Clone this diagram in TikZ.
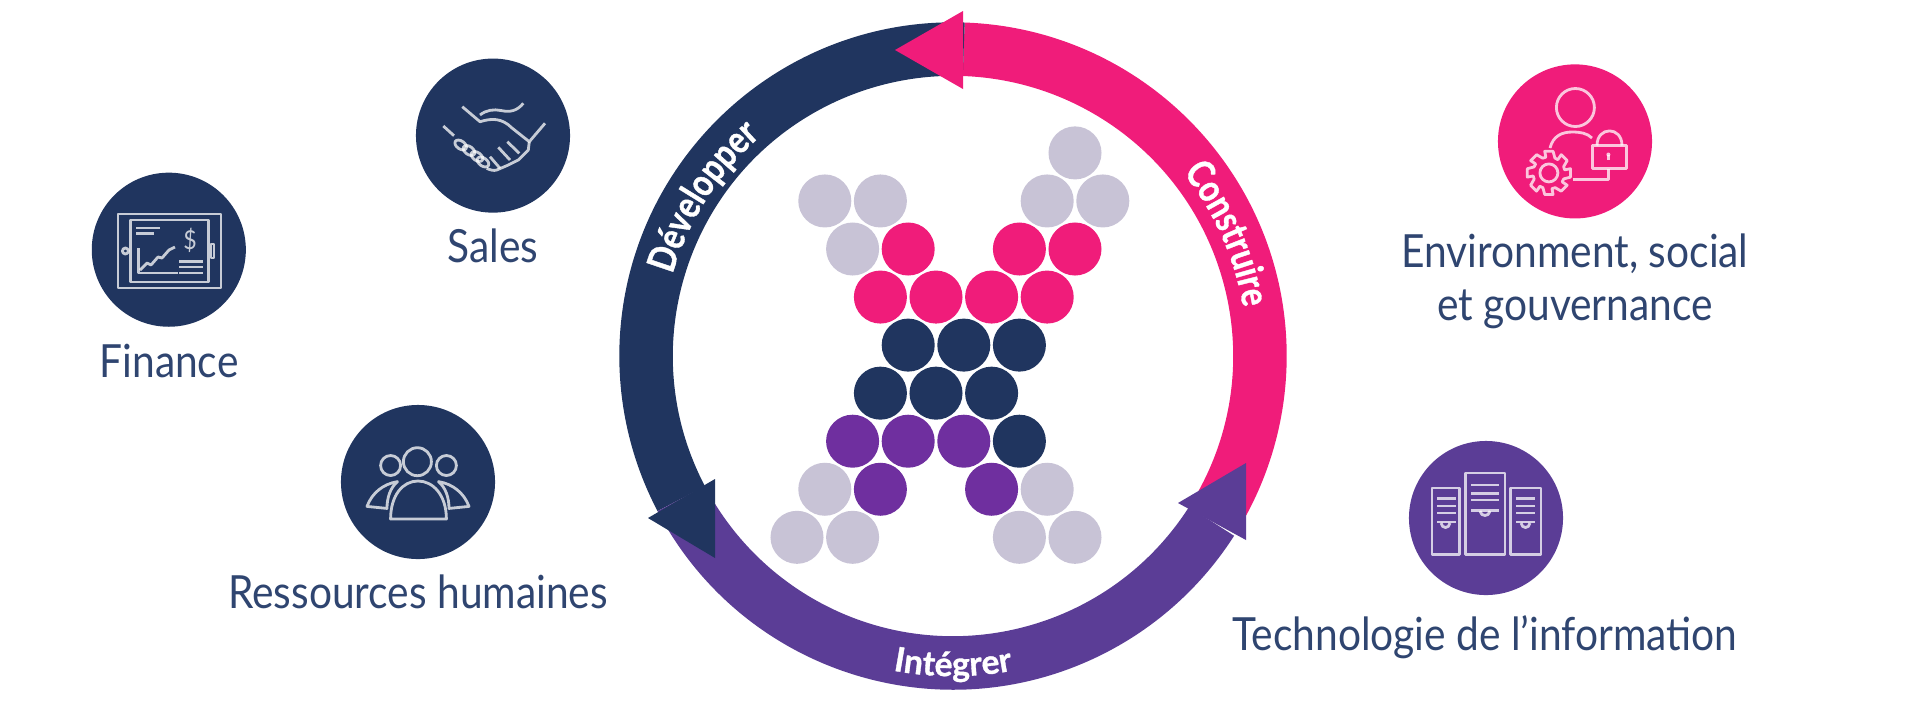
\documentclass[tikz,border=0pt]{standalone}
\usepackage{fontspec}
\setmainfont[FakeStretch=0.89]{Lato}
\newfontfamily\ringfont[FakeStretch=0.82,BoldFeatures={FakeBold=1}]{Lato}
\newfontfamily\wideringfont[BoldFeatures={FakeBold=1}]{Lato}
\usetikzlibrary{decorations.text}
\definecolor{navycol}{HTML}{20355F}
\definecolor{pinkcol}{HTML}{F01C7A}
\definecolor{violetcol}{HTML}{5B3D96}
\definecolor{plumcol}{HTML}{6F2F9F}
\definecolor{greycol}{HTML}{C8C3D6}
\definecolor{textcol}{HTML}{2F4570}
\begin{document}
\begin{tikzpicture}[x=0.01cm, y=-0.01cm,
		dot/.style={circle, inner sep=0pt, minimum size=0.53cm},
		iconcircle/.style={circle, inner sep=0pt, minimum size=1.54cm},
		lbl/.style={anchor=base, inner sep=0pt, text=textcol, font=\fontsize{13}{15}\selectfont},
		iconline/.style={draw=white, draw opacity=0.75, line width=0.8pt, line join=round}]
	\useasboundingbox (0,0) rectangle (1920,705);
	% Ring
	\begin{scope}[shift={(953,356)}, x=1cm, y=1cm]
		\fill[pinkcol] (88:3.335) arc (88:-31:3.335) -- (-31:2.8) arc (-31:88:2.8) -- cycle;
		\fill[navycol] (88:3.335) arc (88:207.7:3.335) -- (207.7:2.8) arc (207.7:88:2.8) -- cycle;
		\fill[violetcol] (207.7:3.335) arc (207.7:327.4:3.335) -- (327.4:2.8) arc (327.4:207.7:2.8) -- cycle;
	\end{scope}
	\fill[pinkcol] (895,50) -- (963,11) -- (963,89) -- cycle;
	\fill[navycol] (715,558) -- (648,518) -- (715,479) -- cycle;
	\fill[violetcol] (1246,463) -- (1178,503) -- (1246,540) -- cycle;
	% Ring labels
	\begin{scope}[shift={(953,356)}, x=1cm, y=1cm]
		\path[decorate, decoration={text along path, text align=center, text={|\ringfont\fontsize{11}{12}\selectfont\bfseries\color{white}|Développer}}] (172:2.92) arc (172:123:2.92);
		\path[decorate, decoration={text along path, text align=center, text={|\ringfont\fontsize{11}{12}\selectfont\bfseries\color{white}|Construire}}] (48:2.94) arc (48:0:2.94);
		\path[decorate, decoration={text along path, text align=center, text={|\wideringfont\fontsize{9.6}{11}\selectfont\bfseries\color{white}|Intégrer}}] (255:3.2) arc (255:285:3.2);
	\end{scope}
	% Dots of the X
	\foreach \rowid/\colr/\cols in {0/greycol/{10}, 1/greycol/{1,3,9,11}, 2/greycol/{2}, 2/pinkcol/{4,8,10}, 3/pinkcol/{3,5,7,9}, 4/navycol/{4,6,8}, 5/navycol/{3,5,7}, 6/plumcol/{2,4,6}, 6/navycol/{8}, 7/greycol/{1,9}, 7/plumcol/{3,7}, 8/greycol/{0,2,8,10}} {
		\foreach \c in \cols {
			\node[dot, fill=\colr] (dot\rowid-\c) at ({797+27.8*\c},{152.9+48.05*\rowid}) {};
		}
	}
	% Icon circles
	\node[iconcircle, fill=navycol] (finance) at (168.8,249.7) {};
	\node[iconcircle, fill=navycol] (sales) at (493,135.6) {};
	\node[iconcircle, fill=navycol] (people) at (418,482) {};
	\node[iconcircle, fill=pinkcol] (esg) at (1575,141.4) {};
	\node[iconcircle, fill=violetcol] (tech) at (1486,518) {};
	% Labels
	\node[lbl] (financelabel) at (169,377) {Finance};
	\node[lbl] (saleslabel) at (493,262.5) {Sales};
	\node[lbl] (peoplelabel) at (418,608.5) {Ressources humaines};
	\node[lbl, anchor=center, align=center] (esglabel) at (1575,281) {Environment, social\\et gouvernance};
	\node[lbl] (techlabel) at (1485,650) {Technologie de l’information};
	% Finance icon
	\draw[iconline] (118,214) rectangle (221,288);
	\draw[iconline] (130.6,220) rectangle (208.8,282);
	\draw[iconline] (125.4,251) circle[radius=3];
	\draw[iconline] (211,244) rectangle (214,258);
	\draw[iconline] (136.4,228) -- (160,228) (136.4,233.6) -- (153.7,233.6);
	\draw[iconline] (138.5,248) -- (138.5,273) -- (177.8,273);
	\draw[iconline] (140,270) -- (147,263) -- (151,265) -- (158,257) -- (162,258) -- (169,250) -- (175,247);
	\foreach \y in {261.5,267,273} {
		\draw[iconline] (179,\y) -- (203,\y);
	}
	\node[text=white, text opacity=0.75, inner sep=0pt, font=\fontsize{7.4}{9}\selectfont] (dollar) at (190,240) {\$};
	% Sales icon
	\draw[iconline] (462.3,106.7) -- (480,121.7) .. controls (492,118) and (502,118) .. (512,128) -- (529.3,141.7) -- (545,123.3);
	\draw[iconline] (480,115) .. controls (486,110) and (494,109) .. (501,110.5) .. controls (510,112.5) and (517,111) .. (523.3,103.3);
	\draw[iconline] (443.3,126) -- (454,135.7);
	\draw[iconline] (486.7,168.3) .. controls (490,170) and (494,171) .. (496.7,170) -- (508.3,165) -- (518.3,160) -- (528.3,150) -- (529.3,141.7);
	\draw[iconline] (498.3,147.3) -- (510,160) (507.3,141.7) -- (519.3,153.3) (490,156.7) -- (500,168.3);
	\foreach \cx/\cy in {460.7/145, 469/150.5, 477/156.5, 483/162} {
		\draw[iconline, rotate around={-35:(\cx,\cy)}] (\cx,\cy) ellipse [x radius=6.5, y radius=4];
	}
	% People icon
	\draw[iconline] (417.4,461.7) circle[radius=14];
	\draw[iconline] (390.6,465.5) circle[radius=10];
	\draw[iconline] (446.4,465.5) circle[radius=10];
	\draw[iconline] (390.6,519) .. controls (390.6,495) and (403,481) .. (418,481) .. controls (433,481) and (446.4,495) .. (446.4,519) -- cycle;
	\draw[iconline] (367,506.4) .. controls (372,493) and (383,484) .. (397.5,481.6) .. controls (390,488) and (387,498) .. (387,508.4) -- cycle;
	\draw[iconline] (469,506.4) .. controls (464,493) and (453,484) .. (438.5,481.6) .. controls (446,488) and (449,498) .. (449,508.4) -- cycle;
	% ESG icon
	\draw[iconline] (1575.4,107.5) circle[radius=19];
	\draw[iconline] (1550,148) .. controls (1553,136) and (1562,132) .. (1572,132) .. controls (1580,132) and (1587,133) .. (1592,138);
	\draw[iconline] (1592.6,145.5) rectangle (1626.3,168.8);
	\draw[iconline] (1597,145.5) .. controls (1597,126) and (1622,126) .. (1622,145.5);
	\draw[iconline] (1608.4,155) -- (1608.4,160);
	\fill[white, opacity=0.75] (1608.4,154.5) circle[radius=2];
	\draw[iconline] (1608.4,168.8) -- (1608.4,179.8) -- (1573,179.8);
	\begin{scope}[shift={(1548.9,172.9)}]
		\draw[iconline] (-11:22) \foreach \a in {0,45,...,315} { -- ({\a-11}:22) -- ({\a+11}:22) -- ({\a+22}:16) -- ({\a+34}:16) } -- cycle;
		\draw[iconline] (0,0) circle[radius=9];
	\end{scope}
	% Tech icon
	\draw[iconline] (1465.2,472.9) rectangle (1505,554.5);
	\draw[iconline] (1432,488) rectangle (1459.3,554.5);
	\draw[iconline] (1510.3,488) rectangle (1541,554.5);
	\foreach \y in {485,493.3,500,510.8} {
		\draw[iconline] (1471.4,\y) -- (1499,\y);
	}
	\foreach \y in {498.6,506,513,522} {
		\draw[iconline] (1437,\y) -- (1456,\y);
		\draw[iconline] (1516,\y) -- (1535,\y);
	}
	\draw[iconline] (1480,511) .. controls (1481,517) and (1489,517) .. (1490,511);
	\draw[iconline] (1441,523) .. controls (1442,529) and (1449,529) .. (1450,523);
	\draw[iconline] (1521,523) .. controls (1522,529) and (1529,529) .. (1530,523);
\end{tikzpicture}
\end{document}
